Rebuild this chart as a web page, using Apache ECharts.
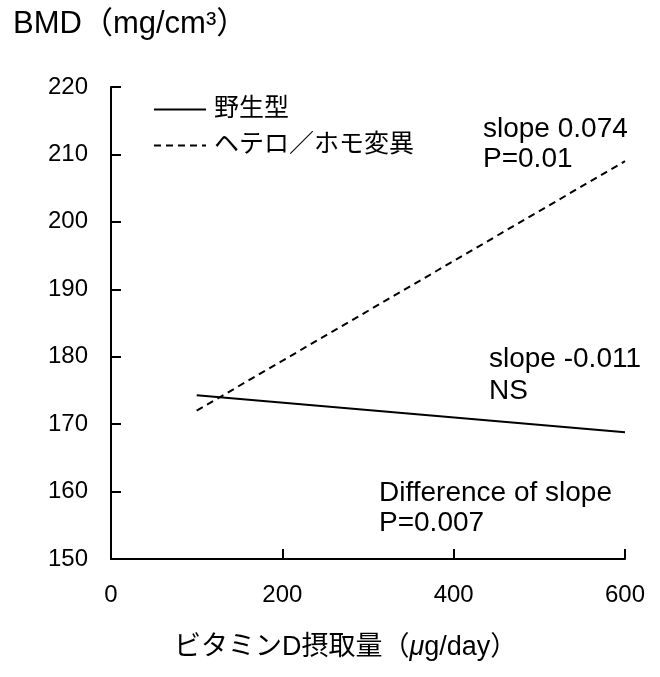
<!DOCTYPE html>
<html>
<head>
<meta charset="utf-8">
<script src="https://cdn.jsdelivr.net/npm/echarts@6/dist/echarts.min.js"></script>
<style>
html,body{margin:0;padding:0;background:#fff;}
#chart{width:660px;height:677px;}
</style>
</head>
<body>
<div id="chart"></div>
<script>
// Data
const xValues = [100, 600];
const wildType = [174.3, 168.8];
const variant = [172.0, 209.0];
const seriesNames = ['野生型', 'ヘテロ／ホモ変異'];
const xTicks = [0, 200, 400, 600];
const yTicks = [150, 160, 170, 180, 190, 200, 210, 220];

const FONT = '"Liberation Sans", "Noto Sans CJK JP", sans-serif';
const chart = echarts.init(document.getElementById('chart'));

const option = {
  animation: false,
  backgroundColor: '#fff',
  grid: { left: 111, right: 35, top: 87, bottom: 118, containLabel: false },
  xAxis: {
    type: 'value', min: xTicks[0], max: xTicks[xTicks.length - 1], interval: xTicks[1] - xTicks[0],
    axisLine: { show: true, lineStyle: { color: '#000', width: 2 } },
    axisTick: { show: true, inside: true, length: 10, lineStyle: { color: '#000', width: 2 } },
    axisLabel: { color: '#000', fontSize: 24, fontFamily: FONT, margin: 24 },
    splitLine: { show: false }
  },
  yAxis: {
    type: 'value', min: yTicks[0], max: yTicks[yTicks.length - 1], interval: yTicks[1] - yTicks[0],
    axisLine: { show: true, lineStyle: { color: '#000', width: 2 } },
    axisTick: { show: true, inside: true, length: 10, lineStyle: { color: '#000', width: 2 } },
    axisLabel: { color: '#000', fontSize: 24, fontFamily: FONT, margin: 23 },
    splitLine: { show: false }
  },
  legend: {
    orient: 'vertical', left: 148, top: 92,
    itemWidth: 52, itemHeight: 26, itemGap: 11,
    itemStyle: { opacity: 0 },
    textStyle: { color: '#000', fontSize: 25, fontFamily: FONT, padding: [0, 0, 0, 3] },
    data: seriesNames
  },
  series: [
    {
      name: seriesNames[0], type: 'line', symbol: 'none',
      data: xValues.map((x, i) => [x, wildType[i]]),
      lineStyle: { color: '#000', width: 2, type: 'solid' },
      itemStyle: { color: '#000' }
    },
    {
      name: seriesNames[1], type: 'line', symbol: 'none',
      data: xValues.map((x, i) => [x, variant[i]]),
      lineStyle: { color: '#000', width: 2, type: [7, 5] },
      itemStyle: { color: '#000' }
    }
  ],
  graphic: [
    { type: 'text', left: 13, top: 9, style: { text: 'BMD（mg/cm³）', fill: '#000', font: '31px ' + FONT } },
    { type: 'text', left: 174, top: 634, style: {
        text: 'ビタミンD摂取量（{mu|μ}g/day）', fill: '#000', font: '27px ' + FONT,
        rich: { mu: { fontStyle: 'italic', fontSize: 27, fontFamily: FONT, fill: '#000' } }
    } },
    { type: 'text', left: 483, top: 115, style: { text: 'slope 0.074', fill: '#000', font: '28px ' + FONT } },
    { type: 'text', left: 483, top: 145, style: { text: 'P=0.01', fill: '#000', font: '28px ' + FONT } },
    { type: 'text', left: 489, top: 345, style: { text: 'slope -0.011', fill: '#000', font: '28px ' + FONT } },
    { type: 'text', left: 489, top: 377, style: { text: 'NS', fill: '#000', font: '28px ' + FONT } },
    { type: 'text', left: 379, top: 479, style: { text: 'Difference of slope', fill: '#000', font: '28px ' + FONT } },
    { type: 'text', left: 379, top: 509, style: { text: 'P=0.007', fill: '#000', font: '28px ' + FONT } }
  ]
};
chart.setOption(option);
</script>
</body>
</html>
